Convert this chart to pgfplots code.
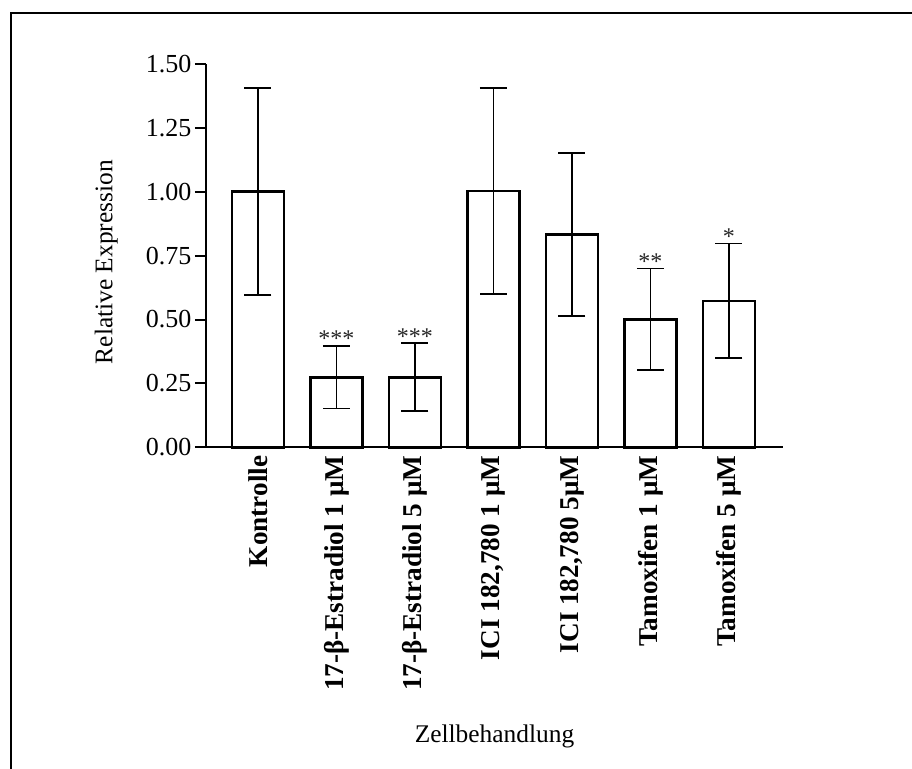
\documentclass[border=0pt]{standalone}
\usepackage{fontspec}
\setmainfont{Liberation Serif}
\usepackage{pgfplots}
\pgfplotsset{compat=1.18}
\begin{document}
\begin{tikzpicture}
\useasboundingbox (0,0) rectangle (456pt,-384.5pt);
% frame (cut off at right and bottom)
\draw[line width=1pt, line join=miter] (5.25pt,-390pt) -- (5.25pt,-6.5pt) -- (460pt,-6.5pt);
\begin{axis}[
  at={(103pt,-223.65pt)}, anchor=south west,
  scale only axis, width=288.5pt, height=191.65pt,
  xmin=-0.662, xmax=6.688, ymin=0, ymax=1.5,
  clip=false,
  axis x line=bottom, axis y line=left,
  axis line style={-, line width=1pt},
  xtick={0,1,2,3,4,5,6},
  xticklabels={Kontrolle, 17-β-Estradiol 1 μM, 17-β-Estradiol 5 μM,
    {ICI 182,780 1 μM}, {ICI 182,780 5μM}, Tamoxifen 1 μM, Tamoxifen 5 μM},
  x tick style={draw=none},
  xtick align=inside,
  xticklabel style={rotate=90, anchor=east, inner sep=4pt,
    font=\fontsize{13.6}{16}\selectfont\bfseries},
  ytick={0,0.25,0.5,0.75,1,1.25,1.5},
  y tick style={line width=1pt, black},
  ytick align=outside, major tick length=5.5pt,
  yticklabel style={font=\fontsize{13}{15}\selectfont, inner sep=0pt, xshift=-1.6pt,
    /pgf/number format/fixed, /pgf/number format/fixed zerofill,
    /pgf/number format/precision=2, /pgf/number format/assume math mode=true},
  ylabel={Relative Expression},
  ylabel style={at={(axis description cs:-0.173,0.483)}, anchor=center,
    font=\fontsize{12.7}{15}\selectfont},
  xlabel={Zellbehandlung},
  xlabel style={at={(axis description cs:0.5,-0.771)}, anchor=base,
    font=\fontsize{12.7}{15}\selectfont},
]
\addplot[ybar, bar width=26pt, bar shift=0pt, draw=black, fill=white, line width=1.35pt,
  error bars/.cd, y dir=both, y explicit,
  error bar style={line width=0.85pt, black},
  error mark options={rotate=90, mark size=6.75pt, line width=0.85pt, black}]
coordinates {
  (0,1.000) +- (0,0.405)
  (1,0.274) +- (0,0.122)
  (2,0.274) +- (0,0.133)
  (3,1.003) +- (0,0.403)
  (4,0.833) +- (0,0.320)
  (5,0.501) +- (0,0.199)
  (6,0.573) +- (0,0.224)
};
\addplot[draw=none, mark=none, nodes near coords, point meta=explicit symbolic,
  nodes near coords style={anchor=south, inner sep=0pt, yshift=-0.8pt,
    font=\fontsize{12}{14}\selectfont, text=black!85}]
coordinates {
  (1,0.398)[***]
  (2,0.407)[***]
  (5,0.699)[**]
  (6,0.797)[*]
};
\end{axis}
\end{tikzpicture}
\end{document}
